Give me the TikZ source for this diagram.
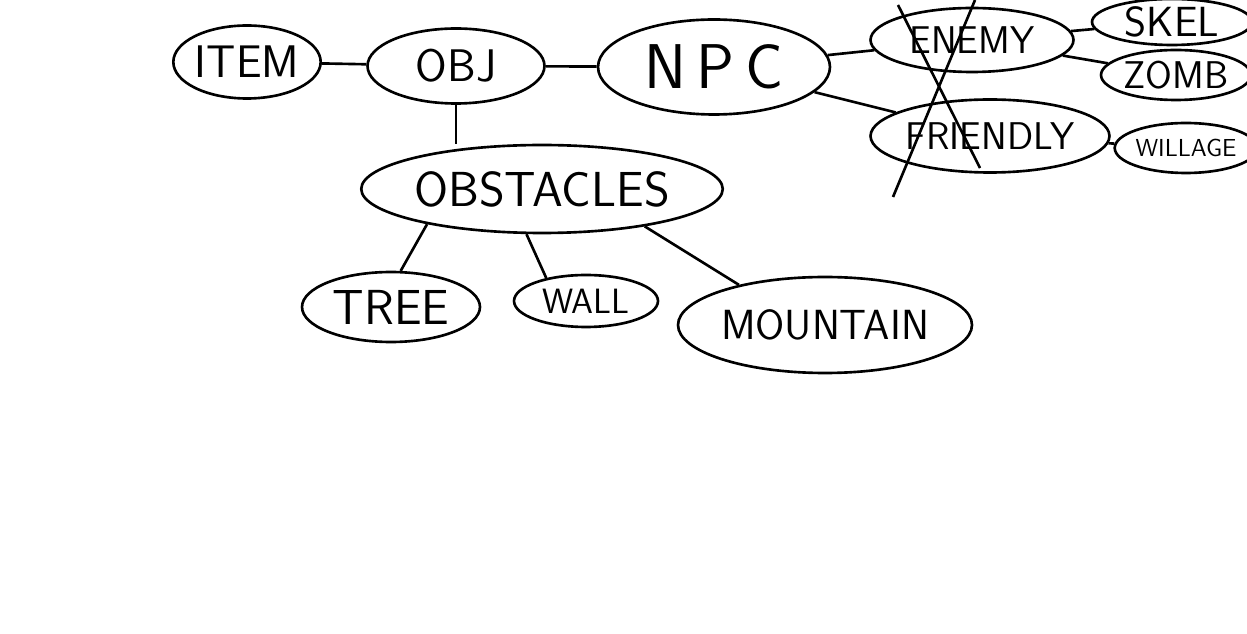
\documentclass[tikz,border=0pt]{standalone}
\usetikzlibrary{shapes.geometric}

\newcommand{\fs}[1]{\fontsize{#1}{#1}\selectfont}

\begin{document}
\begin{tikzpicture}[x=0.02cm,y=-0.02cm,line width=1.5pt,
  blob/.style={ellipse,draw,inner sep=0pt,font=\sffamily},
  link/.style={draw,line width=1.5pt}]
\useasboundingbox (0,0) rectangle (1247,634);
\clip (0,0) rectangle (1247,634);
\node[blob,minimum width=2.9cm,minimum height=1.46cm] (item) at (247,62) {\fs{26}ITEM};
\node[blob,minimum width=3.54cm,minimum height=1.5cm] (obj) at (456,66) {\fs{26}OBJ};
\node[blob,minimum width=4.64cm,minimum height=1.9cm] (npc) at (714,67) {\fs{36}N\,P\,C};
\node[blob,minimum width=7.18cm,minimum height=1.76cm] (obst) at (542,189) {\fs{28}OBSTACLES};
\node[blob,minimum width=3.56cm,minimum height=1.4cm] (tree) at (391,307) {\fs{28}TREE};
\node[blob,minimum width=2.88cm,minimum height=1.04cm] (wall) at (586,301) {\fs{20}WALL};
\node[blob,minimum width=5.68cm,minimum height=1.92cm] (mountain) at (825,325) {\fs{24}MOUNTAIN};
\node[blob,minimum width=4.06cm,minimum height=1.28cm] (enemy) at (972,40) {\fs{22}ENEMY};
\node[blob,minimum width=4.78cm,minimum height=1.46cm] (friendly) at (990,136) {\fs{22}FRIENDLY};
\node[blob,minimum width=3.2cm,minimum height=0.92cm] (skel) at (1172,22) {\fs{24}SKEL};
\node[blob,minimum width=3.0cm,minimum height=1.0cm] (zomb) at (1176,75) {\fs{22}ZOMB};
\node[blob,minimum width=2.8cm,minimum height=1.0cm] (willage) at (1186,148) {\fs{14}WILLAGE};

% connectors
\draw[link] (item) -- (obj);
\draw[link] (obj) -- (npc);
\draw[link] (obj.south) -- (obj.south |- obst.north);
\draw[link] (npc) -- (enemy);
\draw[link] (npc) -- (friendly);
\draw[link] (enemy) -- (skel);
\draw[link] (enemy) -- (zomb);
\draw[link] (friendly) -- (willage);
\draw[link] (obst.197) -- (tree.75);
\draw[link] (obst.251) -- (wall.150);
\draw[link] (obst.340) -- (mountain.155);

% cross over the npc branch
\coordinate (xa) at (898,5);
\coordinate (xb) at (980,168);
\coordinate (xc) at (975,0);
\coordinate (xd) at (893,197);
\draw (xa) -- (xb);
\draw (xc) -- (xd);
\end{tikzpicture}
\end{document}
